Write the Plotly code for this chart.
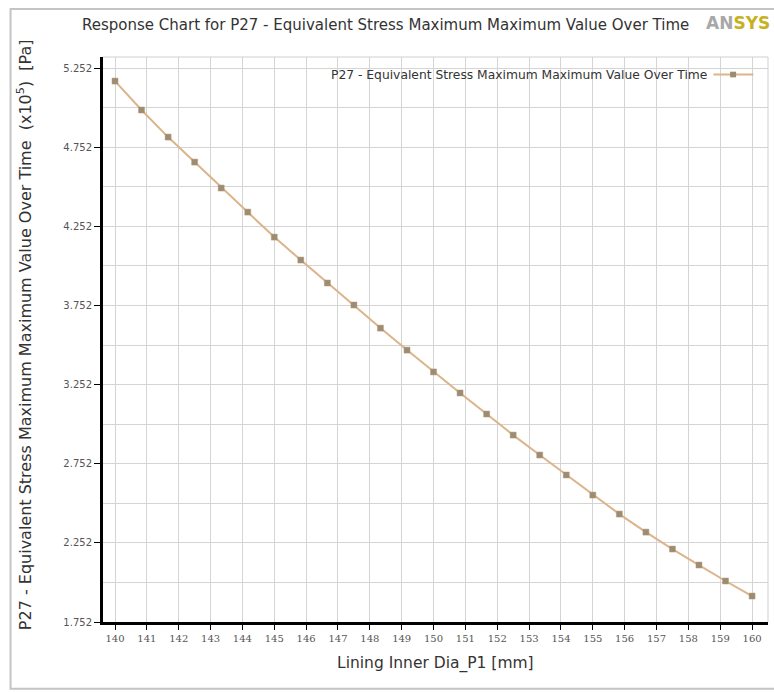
import plotly.graph_objects as go

# Data
x_vals = [140.0, 140.833, 141.667, 142.5, 143.333, 144.167, 145.0, 145.833, 146.667,
          147.5, 148.333, 149.167, 150.0, 150.833, 151.667, 152.5, 153.333, 154.167,
          155.0, 155.833, 156.667, 157.5, 158.333, 159.167, 160.0]
y_vals = [5.170, 4.987, 4.816, 4.658, 4.494, 4.342, 4.184, 4.039, 3.894,
          3.755, 3.609, 3.470, 3.332, 3.199, 3.066, 2.933, 2.807, 2.681,
          2.554, 2.434, 2.320, 2.213, 2.112, 2.011, 1.916]
x_ticks = list(range(140, 161))
y_ticks = [1.752, 2.252, 2.752, 3.252, 3.752, 4.252, 4.752, 5.252]

series_name = "P27 - Equivalent Stress Maximum Maximum Value Over Time"
title_text = "Response Chart for P27 - Equivalent Stress Maximum Maximum Value Over Time"
x_title = "Lining Inner Dia_P1 [mm]"
y_title = "P27 - Equivalent Stress Maximum Maximum Value Over Time  (x10<sup>5</sup>)  [Pa]"

line_color = "#dcb48a"
marker_color = "#9c8c72"
grid_color = "#d4d4d4"

fig = go.Figure()
fig.add_trace(go.Scatter(
    x=x_vals, y=y_vals, mode="lines+markers", name=series_name,
    line=dict(color=line_color, width=2),
    marker=dict(symbol="square", size=6, color=marker_color,
                line=dict(color="#b89a78", width=0.5)),
    showlegend=False,
))

fig.update_layout(
    width=774, height=693,
    margin=dict(l=103, r=6, t=57, b=71),
    paper_bgcolor="white", plot_bgcolor="white",
    font=dict(family="DejaVu Sans", color="#444"),
    xaxis=dict(
        range=[139.623, 160.5], tickvals=x_ticks, ticktext=[str(v) for v in x_ticks],
        showgrid=True, gridcolor=grid_color, gridwidth=1,
        showline=True, linecolor="black", linewidth=3,
        ticks="outside", ticklen=5, tickcolor="black", tickwidth=1,
        tickfont=dict(family="DejaVu Serif", size=10, color="#555"),
        zeroline=False,
    ),
    yaxis=dict(
        range=[1.752, 5.322], tickvals=y_ticks, ticktext=[f"{v:.3f}" for v in y_ticks],
        showgrid=True, gridcolor=grid_color, gridwidth=1,
        minor=dict(dtick=0.25, tick0=1.752, showgrid=True, gridcolor=grid_color, ticks=""),
        showline=True, linecolor="black", linewidth=3,
        ticks="outside", ticklen=6, tickcolor="black", tickwidth=1,
        tickfont=dict(family="DejaVu Sans", size=10, color="#555"),
        zeroline=False,
    ),
)

# outer chart frame
fig.add_shape(type="rect", xref="paper", yref="paper",
              x0=-0.139, x1=1.02, y0=-0.118, y1=1.085,
              line=dict(color="#c4c4c4", width=2), layer="below")
# light plot border top/right
fig.add_shape(type="line", xref="paper", yref="paper", x0=0, x1=1, y0=1, y1=1,
              line=dict(color="#cfcfcf", width=1))
fig.add_shape(type="line", xref="paper", yref="paper", x0=1, x1=1, y0=0, y1=1,
              line=dict(color="#cfcfcf", width=1))

# title
fig.add_annotation(text=title_text, xref="paper", yref="paper",
                   x=-0.035, y=1.057, xanchor="left", yanchor="middle", showarrow=False,
                   font=dict(family="DejaVu Sans", size=15, color="#333"))
# ANSYS logo
fig.add_annotation(text="<b><span style='color:#a8a8a8'>AN</span><span style='color:#c8b020'>SYS</span></b>",
                   xref="paper", yref="paper", x=1.005, y=1.06, xanchor="right", yanchor="middle",
                   showarrow=False, borderpad=0,
                   font=dict(family="DejaVu Sans", size=17, color="#999"))
# axis titles
fig.add_annotation(text=x_title, xref="paper", yref="paper", x=0.5, y=-0.073,
                   xanchor="center", yanchor="middle", showarrow=False,
                   font=dict(family="DejaVu Sans", size=15.5, color="#333"))
fig.add_annotation(text=y_title, xref="paper", yref="paper", x=-0.117, y=0.508,
                   xanchor="center", yanchor="middle", textangle=-90, showarrow=False,
                   font=dict(family="DejaVu Sans", size=16, color="#333"))

# legend (drawn manually: text then symbol on the right)
fig.add_annotation(text=series_name, xref="paper", yref="paper", x=0.911, y=0.969,
                   xanchor="right", yanchor="middle", showarrow=False,
                   font=dict(family="DejaVu Sans", size=12.3, color="#333"))
fig.add_shape(type="line", xref="paper", yref="paper", x0=0.918, x1=0.978, y0=0.969, y1=0.969,
              line=dict(color=line_color, width=2))
fig.add_shape(type="rect", xref="paper", yref="paper", x0=0.943, x1=0.952, y0=0.964, y1=0.974,
              line=dict(color=marker_color, width=0), fillcolor=marker_color)

fig.write_html("out.html")
